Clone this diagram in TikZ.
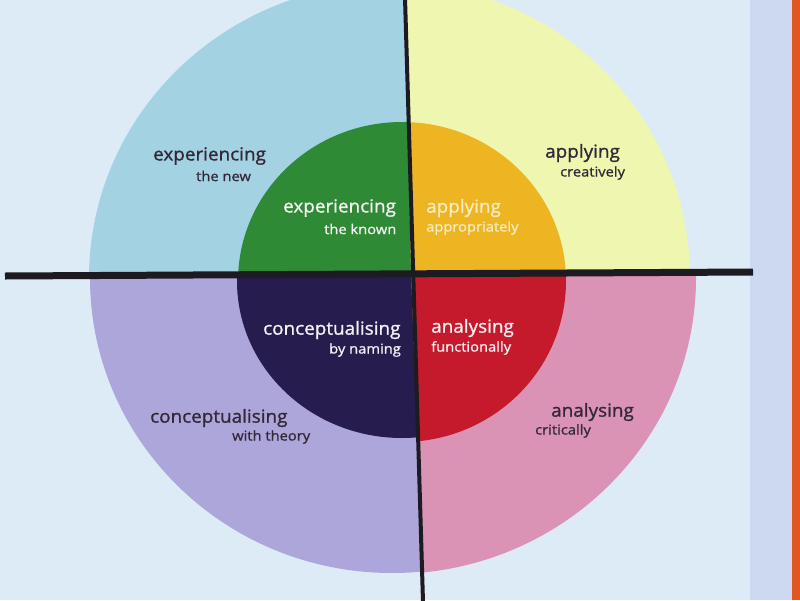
\documentclass[tikz,border=0pt]{standalone}
\usepackage{fontspec}
\setmainfont{Open Sans}
\newfontfamily\lblfont[FakeBold=1.2,FakeStretch=1.05]{Open Sans}
\newfontfamily\sublblfont[FakeBold=1.0,FakeStretch=1.09]{Open Sans}
\definecolor{bg}{HTML}{DDEBF6}
\definecolor{bgband}{HTML}{CCD9F1}
\definecolor{edge}{HTML}{E2561F}
\definecolor{qTL}{HTML}{A3D3E3}
\definecolor{qTR}{HTML}{EEF6B0}
\definecolor{qBL}{HTML}{ADA6DA}
\definecolor{qBR}{HTML}{DA93B5}
\definecolor{iTL}{HTML}{2F8A35}
\definecolor{iTR}{HTML}{EDB521}
\definecolor{iBL}{HTML}{261D4E}
\definecolor{iBR}{HTML}{C41A2B}
\definecolor{ink}{HTML}{1E1A22}
\definecolor{dtext}{HTML}{33283A}
\definecolor{ltext}{HTML}{F4F0F4}
\definecolor{ytext}{HTML}{F8EBC0}
\tikzset{
  mainlbl/.style={anchor=west,inner sep=0pt,font=\lblfont\fontsize{18}{20}\selectfont},
  sublbl/.style={anchor=west,inner sep=0pt,font=\sublblfont\fontsize{13.5}{15}\selectfont},
  divider/.style={draw=ink,line cap=butt},
}
\begin{document}
\begin{tikzpicture}[x=1pt,y=-1pt]
\useasboundingbox (0,0) rectangle (800,600);
% background
\fill[bg] (0,0) rectangle (800,600);
\fill[bgband] (750,0) rectangle (792,600);
\fill[edge] (792,0) rectangle (800,600);
% key points of the dividing lines
\coordinate (vt) at (405,-2);
\coordinate (vb) at (423,602);
\coordinate (hl) at (5,276);
\coordinate (hr) at (753,272);
\coordinate (cx) at (411.2,274);
% quadrants
\begin{scope}
  \clip (-5,-5) -- (405,-5) -- (cx) -- (-5,276.5) -- cycle;
  \fill[qTL] (392,278) ellipse [x radius=303, y radius=295];
  \fill[iTL] (402,281) ellipse [x radius=164, y radius=159];
\end{scope}
\begin{scope}
  \clip (405,-5) -- (805,-5) -- (805,271.5) -- (cx) -- cycle;
  \fill[qTR] (392,278) ellipse [x radius=298, y radius=295];
  \fill[iTR] (402,281) ellipse [x radius=164, y radius=159];
\end{scope}
\begin{scope}
  \clip (-5,276.5) -- (cx) -- (423.3,605) -- (-5,605) -- cycle;
  \fill[qBL] (392,278) ellipse [x radius=302, y radius=295];
  \fill[iBL] (402,281) ellipse [x radius=165, y radius=157];
\end{scope}
\begin{scope}
  \clip (cx) -- (805,271.5) -- (805,605) -- (423.3,605) -- cycle;
  \fill[qBR] (392,278) ellipse [x radius=304, y radius=296];
  \fill[iBR] (402,281) ellipse [x radius=164, y radius=161];
\end{scope}
% dividing lines
\draw[divider,line width=7pt] (hl) -- (hr);
\draw[divider,line width=4pt] (vt) -- (vb);
% labels, outer ring
\node[mainlbl,text=dtext] (o1) at (153,156) {experiencing};
\node[sublbl,text=dtext] (o1s) at (196,176) {the new};
\node[mainlbl,text=dtext] (o2) at (545,153) {applying};
\node[sublbl,text=dtext] (o2s) at (560,173) {creatively};
\node[mainlbl,text=dtext] (o3) at (150,418) {conceptualising};
\node[sublbl,text=dtext] (o3s) at (232,437) {with theory};
\node[mainlbl,text=dtext] (o4) at (551,412) {analysing};
\node[sublbl,text=dtext] (o4s) at (535,431) {critically};
% labels, inner circle
\node[mainlbl,text=ltext] (i1) at (283,208) {experiencing};
\node[sublbl,text=ltext] (i1s) at (324,229) {the known};
\node[mainlbl,text=ytext] (i2) at (426,208) {applying};
\node[sublbl,text=ytext] (i2s) at (426,228) {appropriately};
\node[mainlbl,text=ltext] (i3) at (263,330) {conceptualising};
\node[sublbl,text=ltext] (i3s) at (329,350) {by naming};
\node[mainlbl,text=ltext] (i4) at (431,328) {analysing};
\node[sublbl,text=ltext] (i4s) at (431,348) {functionally};
\end{tikzpicture}
\end{document}
